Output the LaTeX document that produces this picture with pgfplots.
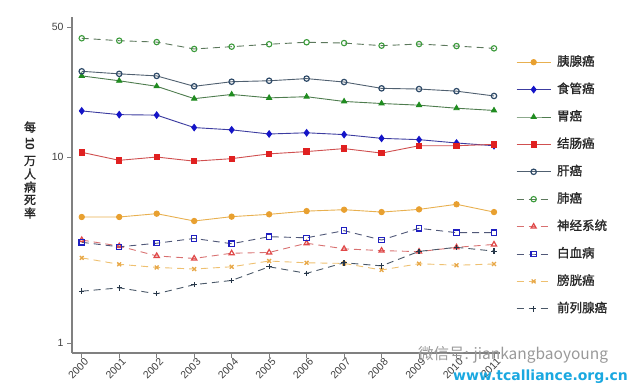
\documentclass[border=0pt]{standalone}
\usepackage{pgfplots}
\pgfplotsset{compat=1.18}
\usepackage{pgfplotstable}
\usepackage{fontspec}
\setmainfont{Liberation Sans}
\newfontfamily\cjk{Noto Sans CJK SC}
\newfontfamily\cjkb[FakeBold=1.2]{Noto Sans CJK SC}
\newfontfamily\wmfont{DejaVu Sans}
\definecolor{cPan}{HTML}{E8A030}
\definecolor{cPanL}{HTML}{E8B050}
\definecolor{cEso}{HTML}{1414C8}
\definecolor{cEsoL}{HTML}{3C3CA0}
\definecolor{cSto}{HTML}{208C20}
\definecolor{cStoL}{HTML}{4E7C4E}
\definecolor{cCol}{HTML}{E02020}
\definecolor{cColL}{HTML}{D05050}
\definecolor{cLiv}{HTML}{2E4A68}
\definecolor{cLivL}{HTML}{506070}
\definecolor{cLung}{HTML}{3A9A3A}
\definecolor{cLungL}{HTML}{5C785C}
\definecolor{cNer}{HTML}{E04848}
\definecolor{cNerL}{HTML}{D87070}
\definecolor{cLeu}{HTML}{2020C0}
\definecolor{cLeuL}{HTML}{505878}
\definecolor{cBla}{HTML}{E8A848}
\definecolor{cBlaL}{HTML}{EEC070}
\definecolor{cPro}{HTML}{263648}
\definecolor{cProL}{HTML}{4A5868}
\definecolor{axgray}{HTML}{808080}
\pgfplotstableread{
year pan eso sto col liv lung nerv leuk blad pros
2000 4.76 17.7 27.3 10.6 28.9 43.5 3.58 3.48 2.87 1.90
2001 4.76 16.9 25.7 9.6 28.0 42.2 3.32 3.29 2.65 1.98
2002 4.96 16.8 24.0 10.0 27.3 41.5 2.94 3.44 2.55 1.84
2003 4.53 14.4 20.6 9.5 24.0 38.1 2.85 3.65 2.50 2.06
2004 4.78 14.0 21.7 9.8 25.4 39.2 3.04 3.42 2.57 2.17
2005 4.92 13.3 20.8 10.4 25.7 40.4 3.07 3.73 2.76 2.57
2006 5.12 13.5 21.1 10.7 26.4 41.4 3.44 3.68 2.70 2.37
2007 5.21 13.2 19.9 11.1 25.3 41.0 3.21 4.02 2.68 2.70
2008 5.06 12.6 19.4 10.5 23.4 39.7 3.14 3.58 2.47 2.60
2009 5.23 12.4 19.0 11.5 23.2 40.5 3.10 4.14 2.67 3.11
2010 5.57 11.9 18.3 11.5 22.6 39.5 3.27 3.92 2.62 3.27
2011 5.06 11.5 17.8 11.7 21.3 38.4 3.39 3.92 2.66 3.12
}\datatable
\begin{document}
\begin{tikzpicture}
\useasboundingbox (-72pt,-38pt) rectangle (561pt,353pt);
\begin{axis}[
  at={(0pt,0pt)}, anchor=south west,
  scale only axis, width=428pt, height=336pt,
  ymode=log, xmin=1999.74, xmax=2011.16, ymin=0.884, ymax=56.6,
  axis x line*=bottom, axis y line*=left,
  axis line style={axgray, line width=1.1pt, -},
  tick style={axgray, line width=0.9pt}, tick align=outside, major tick length=5pt,
  minor tick num=0, log basis y=10,
  xtick={2000,...,2011},
  ytick={1,10,50}, yticklabels={1,10,50},
  /pgf/number format/assume math mode=true,
  xticklabel={\pgfmathprintnumber[set thousands separator={}]{\tick}},
  xticklabel style={rotate=45, anchor=north east, font=\fontsize{10.5}{12}\selectfont, text=black!75, inner sep=1pt, xshift=3pt},
  yticklabel style={font=\fontsize{10.5}{12}\selectfont, text=black!75},
  legend style={draw=none, fill=none, at={(axis description cs:1,1)}, anchor=north west,
    xshift=16pt, yshift=-37.5pt, inner sep=0pt, row sep=12.4pt,
    font=\cjkb\fontsize{12.5}{14}\selectfont, text=black!85,
    nodes={inner sep=2pt, text height=9pt, text depth=2pt}},
  legend cell align=left,
  /tikz/every odd column/.append style={column sep=4pt},
  legend image code/.code={\draw[mark repeat=2, mark phase=2, #1] plot coordinates {(0pt,0pt) (17pt,0pt) (34pt,0pt)};},
  every axis plot/.append style={line width=0.9pt, mark size=2.7pt},
  clip=false,
]
\addplot[color=cPanL, mark=*, mark options={solid, fill=cPan, draw=cPan}] table[x=year, y=pan] {\datatable};
\addlegendentry{胰腺癌}
\addplot[color=cEsoL, mark=diamond*, mark options={solid, fill=cEso, draw=cEso, scale=1.2}] table[x=year, y=eso] {\datatable};
\addlegendentry{食管癌}
\addplot[color=cStoL, mark=triangle*, mark options={solid, fill=cSto, draw=cSto, scale=1.1}] table[x=year, y=sto] {\datatable};
\addlegendentry{胃癌}
\addplot[color=cColL, mark=square*, mark options={solid, fill=cCol, draw=cCol}] table[x=year, y=col] {\datatable};
\addlegendentry{结肠癌}
\addplot[color=cLivL, mark=o, mark options={solid, draw=cLiv, fill=white, line width=1.2pt}] table[x=year, y=liv] {\datatable};
\addlegendentry{肝癌}
\addplot[color=cLungL, dash pattern=on 7pt off 5pt, mark=o, mark options={solid, draw=cLung, fill=white, line width=1.1pt}] table[x=year, y=lung] {\datatable};
\addlegendentry{肺癌}
\addplot[color=cNerL, dash pattern=on 7pt off 5pt, mark=triangle, mark options={solid, draw=cNer, line width=1.2pt, scale=1.1}] table[x=year, y=nerv] {\datatable};
\addlegendentry{神经系统}
\addplot[color=cLeuL, dash pattern=on 7pt off 5pt, mark=square, mark options={solid, draw=cLeu, line width=1.1pt}] table[x=year, y=leuk] {\datatable};
\addlegendentry{白血病}
\addplot[color=cBlaL, dash pattern=on 7pt off 5pt, mark=x, mark options={solid, draw=cBla, line width=1.3pt}] table[x=year, y=blad] {\datatable};
\addlegendentry{膀胱癌}
\addplot[color=cProL, dash pattern=on 7pt off 5pt, mark=+, mark options={solid, draw=cPro, line width=1.2pt}] table[x=year, y=pros] {\datatable};
\addlegendentry{前列腺癌}
\end{axis}
\begin{scope}[every node/.style={font=\cjkb\fontsize{12}{13}\selectfont, text=black!85, inner sep=0pt}]
\node at (-42pt,226pt) {每};
\node[rotate=-90, font=\bfseries\fontsize{12}{13}\selectfont] at (-42pt,209pt) {10};
\node at (-42pt,192pt) {万};
\node at (-42pt,179pt) {人};
\node at (-42pt,166pt) {病};
\node at (-42pt,153pt) {死};
\node at (-42pt,140pt) {率};
\end{scope}
\node[font=\cjk\fontsize{15.5}{17}\selectfont, text=black!40, anchor=west, inner sep=0pt] at (346pt,-2pt) {微信号: jiankangbaoyoung};
\node[font=\wmfont\bfseries\fontsize{14}{16}\selectfont, text={rgb,255:red,26;green,168;blue,224}, anchor=west, inner sep=0pt] at (381pt,-24pt) {www.tcalliance.org.cn};
\end{tikzpicture}
\end{document}
